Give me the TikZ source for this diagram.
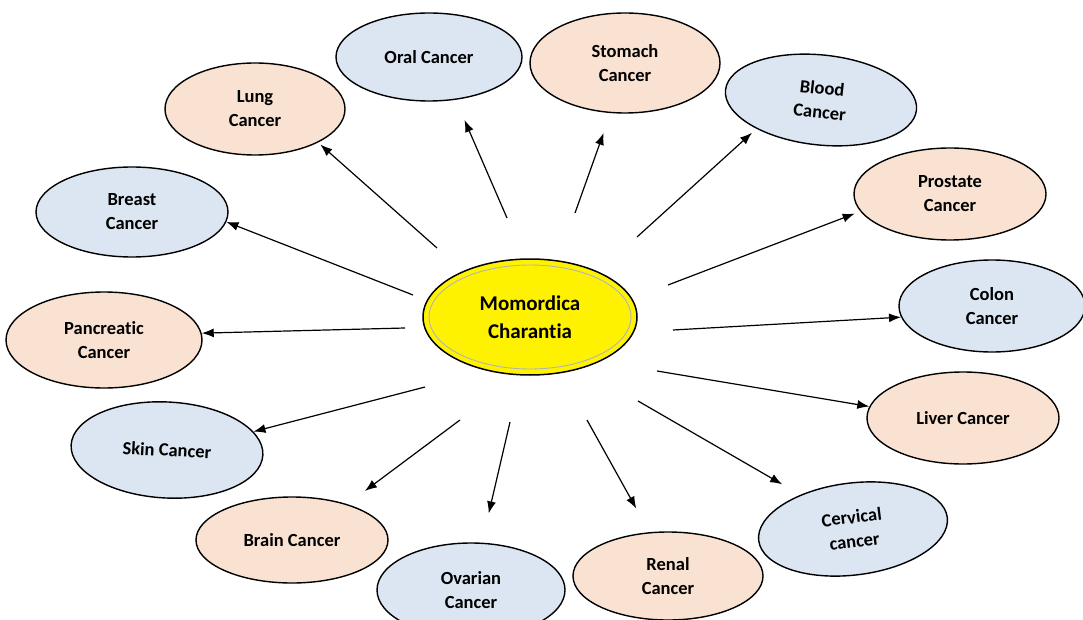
\documentclass[tikz,border=0pt]{standalone}
\usepackage{fontspec}
\setmainfont{Carlito}[Ligatures=NoCommon]
\usetikzlibrary{shapes.geometric,arrows.meta}
\definecolor{bluefill}{HTML}{DCE6F2}
\definecolor{peachfill}{HTML}{F9E2D2}
\definecolor{rimgray}{HTML}{B0B4B8}
\begin{document}
\begin{tikzpicture}[x=1pt,y=-1pt,
  disease/.style={ellipse, draw=black, line width=1.4pt, inner sep=0pt, align=center,
    font=\fontsize{18.5}{24}\selectfont\bfseries},
  bluebub/.style={disease, fill=bluefill},
  peachbub/.style={disease, fill=peachfill},
  centerbub/.style={ellipse, draw=black, line width=1.5pt, fill=yellow, inner sep=0pt, align=center,
    font=\fontsize{21}{28}\selectfont\bfseries},
  arr/.style={-{Latex[length=12pt,width=9pt]}, line width=1.2pt}]
\useasboundingbox (0,0) rectangle (1083,620);

% centre
\node[centerbub, minimum width=214pt, minimum height=116pt] (mc) at (530,317) {Momordica\\Charantia};
\draw[rimgray, line width=0.9pt] (mc.center) ellipse [x radius=101pt, y radius=52pt];

% outer bubbles
\node[peachbub, minimum width=180pt, minimum height=92pt] (lung) at (255,109) {Lung\\Cancer};
\node[bluebub, minimum width=186pt, minimum height=88pt] (oral) at (429,57) {Oral Cancer};
\node[peachbub, minimum width=190pt, minimum height=100pt] (stomach) at (625,63) {Stomach\\Cancer};
\node[bluebub, minimum width=192pt, minimum height=90pt, rotate=-6] (blood) at (821,100) {Blood\\Cancer};
\node[bluebub, minimum width=192pt, minimum height=90pt] (breast) at (132,212) {Breast\\Cancer};
\node[peachbub, minimum width=192pt, minimum height=92pt] (prostate) at (950,194) {Prostate\\Cancer};
\node[peachbub, minimum width=196pt, minimum height=96pt] (pancreatic) at (104,340) {Pancreatic\\Cancer};
\node[bluebub, minimum width=186pt, minimum height=92pt] (colon) at (992,306) {Colon\\Cancer};
\node[bluebub, minimum width=192pt, minimum height=96pt, rotate=-3] (skin) at (167,450) {Skin Cancer};
\node[peachbub, minimum width=192pt, minimum height=92pt] (liver) at (963,418) {Liver Cancer};
\node[peachbub, minimum width=192pt, minimum height=86pt] (brain) at (292,540) {Brain Cancer};
\node[bluebub, minimum width=188pt, minimum height=94pt] (ovarian) at (471,590) {Ovarian\\Cancer};
\node[peachbub, minimum width=190pt, minimum height=88pt] (renal) at (668,576) {Renal\\Cancer};
\node[bluebub, minimum width=190pt, minimum height=92pt, rotate=7] (cervical) at (853,529) {Cervical\\cancer};

% arrow start points
\coordinate (sLung) at (437,248);
\coordinate (sOral) at (507,218);
\coordinate (sStomach) at (575,213);
\coordinate (sBlood) at (637,237);
\coordinate (sBreast) at (413,295);
\coordinate (sProstate) at (668,285);
\coordinate (sPancreatic) at (405,328);
\coordinate (sColon) at (673,330);
\coordinate (sSkin) at (425,387);
\coordinate (sLiver) at (657,371);
\coordinate (sBrain) at (460,420);
\coordinate (sOvarian) at (510,422);
\coordinate (sRenal) at (587,420);
\coordinate (sCervical) at (638,401);

% arrows
\draw[arr, shorten >=3pt] (sLung) -- (lung.-28);
\draw[arr, shorten >=22pt] (sOral) -- (oral.-58);
\draw[arr, shorten >=21pt] (sStomach) -- (stomach.-106);
\draw[arr, shorten >=6pt] (sBlood) -- (blood.210);
\draw[arr] (sBreast) -- (breast.-6);
\draw[arr, shorten >=6pt] (sProstate) -- (prostate.191);
\draw[arr] (sPancreatic) -- (pancreatic.4);
\draw[arr] (sColon) -- (colon.187);
\draw[arr] (sSkin) -- (skin.15);
\draw[arr] (sLiver) -- (liver.173);
\draw[arr, shorten >=22pt] (sBrain) -- (brain.33);
\draw[arr, shorten >=30pt] (sOvarian) -- (ovarian.77);
\draw[arr, shorten >=27pt] (sRenal) -- (renal.113);
\draw[arr, shorten >=21pt] (sCervical) -- (cervical.140);
\end{tikzpicture}
\end{document}
